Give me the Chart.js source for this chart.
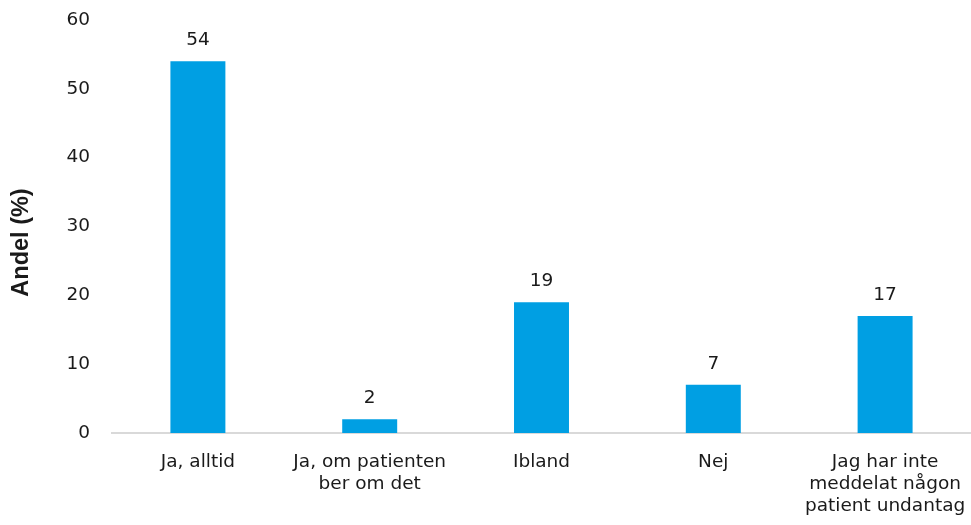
<!DOCTYPE html>
<html>
<head>
<meta charset="utf-8">
<script src="https://cdn.jsdelivr.net/npm/chart.js@4"></script>
<style>
  html, body { margin: 0; padding: 0; background: #fff; }
  #wrap { width: 971px; height: 525px; }
</style>
</head>
<body>
<div id="wrap"><canvas id="myChart" width="971" height="525"></canvas></div>
<script>
'use strict'
const categories = [
    'Ja, alltid',
    ['Ja, om patienten', 'ber om det'],
    'Ibland',
    'Nej',
    ['Jag har inte', 'meddelat någon', 'patient undantag']
];
const values = [54, 2, 19, 7, 17];
const yTicks = [0, 10, 20, 30, 40, 50, 60];
const yTitle = 'Andel (%)';

const fontName = "'DejaVu Sans', Verdana, sans-serif";

//draws the number above each bar and the y axis title
const valueLabels = {
    id: 'valueLabels',
    afterDatasetsDraw(chart){
        const ctx = chart.ctx;
        const meta = chart.getDatasetMeta(0);
        ctx.save();
        ctx.font = '18.5px ' + fontName;
        ctx.fillStyle = '#1a1a1a';
        ctx.textAlign = 'center';
        ctx.textBaseline = 'alphabetic';
        meta.data.forEach((bar, i) => {
            ctx.fillText(values[i], bar.x, bar.y - 16);
        });
        //axis title, a bit below the middle like in the original
        ctx.translate(22, chart.chartArea.top + (chart.chartArea.bottom - chart.chartArea.top) / 2 + 16);
        ctx.rotate(-Math.PI / 2);
        ctx.font = "bold 23.5px 'Liberation Sans', Arial, sans-serif";
        ctx.textBaseline = 'middle';
        ctx.fillText(yTitle, 0, 0);
        ctx.restore();
    }
};

const config = {
    type: 'bar',
    data: {
        labels: categories,
        datasets: [{
            data: values,
            backgroundColor: '#009fe3',
            barPercentage: 0.32,
            categoryPercentage: 1
        }]
    },
    options: {
        responsive: false,
        animation: false,
        layout: { padding: { top: 20, right: 0, bottom: 0, left: 0 } },
        plugins: { legend: { display: false }, tooltip: { enabled: false } },
        scales: {
            x: {
                afterFit(scale){
                    scale.height = 92;
                    scale.paddingLeft = 0;
                    scale.paddingRight = 0;
                },
                grid: { display: false, drawTicks: false },
                border: { display: true, color: '#d9d9d9', width: 2 },
                ticks: {
                    color: '#1a1a1a',
                    font: { family: fontName, size: 18.5, lineHeight: 1.19 },
                    padding: 18,
                    maxRotation: 0,
                    autoSkip: false
                }
            },
            y: {
                min: 0,
                max: 60,
                afterBuildTicks(scale){
                    scale.ticks = yTicks.map(v => ({ value: v }));
                },
                afterFit(scale){
                    scale.width = 112;
                    scale.paddingTop = 0;
                    scale.paddingBottom = 0;
                },
                grid: { display: false, drawTicks: false },
                border: { display: false },
                ticks: {
                    color: '#1a1a1a',
                    font: { family: fontName, size: 18.5 },
                    padding: 22
                }
            }
        }
    },
    plugins: [valueLabels]
};

let myChart = new Chart(document.getElementById('myChart'), config);
</script>
</body>
</html>
